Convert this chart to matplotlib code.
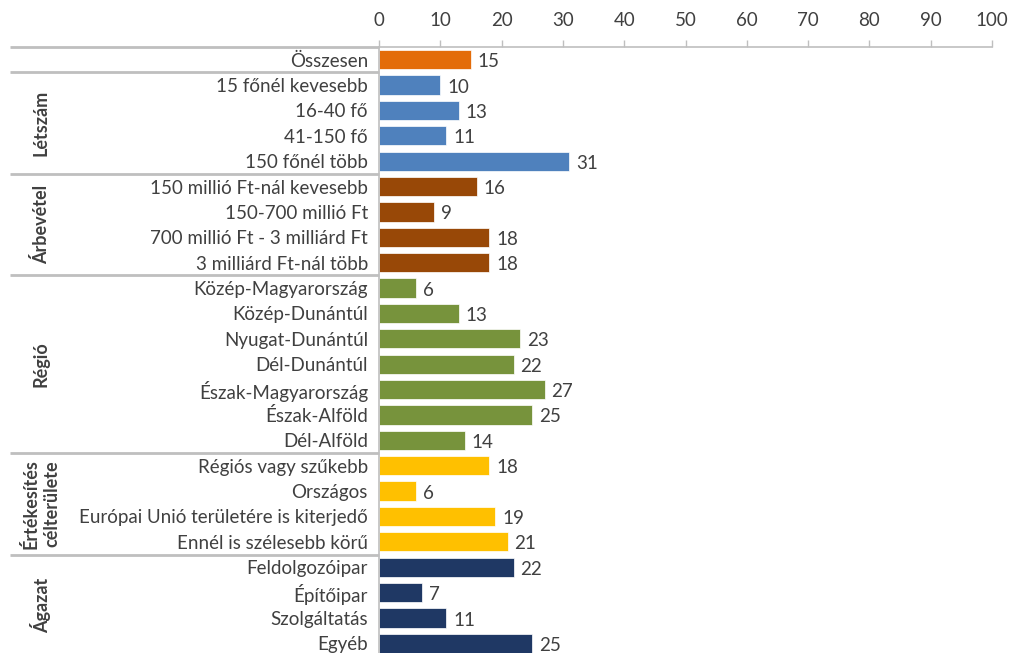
import matplotlib
matplotlib.use("Agg")
import matplotlib.pyplot as plt
from matplotlib.transforms import blended_transform_factory

# Survey shares (%) by respondent group
groups = ["", "Létszám", "Árbevétel", "Régió", "Értékesítés\ncélterülete", "Ágazat"]
categories = [
    ["Összesen"],
    ["15 főnél kevesebb", "16-40 fő", "41-150 fő", "150 főnél több"],
    ["150 millió Ft-nál kevesebb", "150-700 millió Ft",
     "700 millió Ft - 3 milliárd Ft", "3 milliárd Ft-nál több"],
    ["Közép-Magyarország", "Közép-Dunántúl", "Nyugat-Dunántúl", "Dél-Dunántúl",
     "Észak-Magyarország", "Észak-Alföld", "Dél-Alföld"],
    ["Régiós vagy szűkebb", "Országos", "Európai Unió területére is kiterjedő",
     "Ennél is szélesebb körű"],
    ["Feldolgozóipar", "Építőipar", "Szolgáltatás", "Egyéb"],
]
values = [
    [15],
    [10, 13, 11, 31],
    [16, 9, 18, 18],
    [6, 13, 23, 22, 27, 25, 14],
    [18, 6, 19, 21],
    [22, 7, 11, 25],
]
colors = ["#E36C09", "#4F81BD", "#984807", "#77933C", "#FFC000", "#1F3864"]
xticks = [0, 10, 20, 30, 40, 50, 60, 70, 80, 90, 100]

plt.rcParams["font.family"] = ["Lato", "DejaVu Sans"]
text_color = "#404040"
grid_color = "#BFBFBF"
fs = 13.5

fig = plt.figure(figsize=(10.18, 6.53), dpi=100)
ax = fig.add_axes([379 / 1018, 0.0, (992 - 379) / 1018, 1 - 47 / 653])

labels, vals, cols = [], [], []
for cats, vs, c in zip(categories, values, colors):
    labels += cats
    vals += vs
    cols += [c] * len(cats)
ypos = list(range(len(labels)))

ax.barh(ypos, vals, height=0.76, color=cols, edgecolor="white", linewidth=0.5)
for y, v in zip(ypos, vals):
    ax.text(v + 1.1, y + 0.08, f"{v}", va="center", ha="left",
            fontsize=fs, color=text_color)

ax.set_xlim(0, 100)
ax.set_ylim(len(labels) - 0.62, -0.5)
ax.xaxis.tick_top()
ax.set_xticks(xticks)
ax.tick_params(axis="x", colors=grid_color, labelcolor=text_color,
               labelsize=fs, length=5, width=1, pad=8)
ax.set_yticks(ypos)
ax.set_yticklabels(labels, fontsize=fs, color=text_color)
ax.tick_params(axis="y", length=0, pad=8)

for side in ["right", "bottom"]:
    ax.spines[side].set_visible(False)
for side in ["top", "left"]:
    ax.spines[side].set_color(grid_color)
    ax.spines[side].set_linewidth(1.2)

# Group separators and group titles in the category area
tr = blended_transform_factory(ax.transAxes, ax.transData)
x_left = (10 - 379) / (992 - 379)
start = 0
for g, cats in zip(groups, categories):
    top = start - 0.5
    ax.plot([x_left, 0], [top, top], transform=tr, color=grid_color,
            linewidth=2, clip_on=False, solid_capstyle="butt")
    if g:
        mid = start + (len(cats) - 1) / 2
        ax.text((41 - 379) / (992 - 379), mid, g, transform=tr, rotation=90,
                ha="center", va="center", fontsize=fs - 0.5, fontweight="bold",
                color=text_color, multialignment="center", linespacing=1.3)
    start += len(cats)

fig.savefig("out.png", dpi=100)
